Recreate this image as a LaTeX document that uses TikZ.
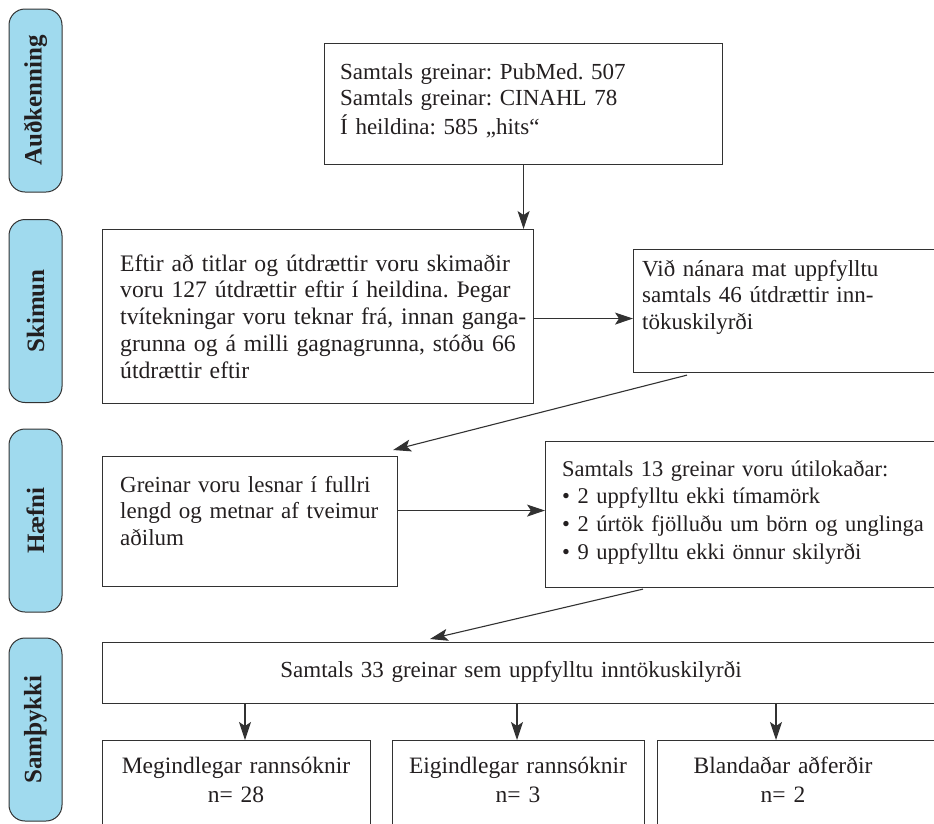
\documentclass[tikz,border=0pt]{standalone}
\usepackage{fontspec}
\setmainfont{Liberation Serif}
\usetikzlibrary{positioning, arrows.meta, calc}

\definecolor{pillblue}{RGB}{160,218,238}
\definecolor{linegray}{RGB}{50,50,50}
\definecolor{textgray}{RGB}{35,31,32}
\frenchspacing

\begin{document}
\begin{tikzpicture}[x=1pt, y=-1pt,
		stagenode/.style={draw=linegray, fill=pillblue, rounded corners=16pt, line width=1pt, minimum width=183pt, minimum height=53pt, inner sep=0pt, rotate=90, text=textgray, font=\fontsize{25}{28}\selectfont\bfseries},
		boxnode/.style={draw=linegray, line width=1.1pt, inner sep=0pt, anchor=north west},
		boxtext/.style={anchor=base west, inner sep=0pt, align=left, text width=430pt, text=textgray, font=\fontsize{23}{26.8}\selectfont},
		midtext/.style={anchor=base, inner sep=0pt, align=center, text width=300pt, text=textgray, font=\fontsize{23.5}{29}\selectfont},
		arrow/.style={-{Stealth[length=18pt, width=12pt, inset=4pt]}, line width=1.1pt, linegray}
		]
		
		\useasboundingbox (0,0) rectangle (934,823);
		\clip (0,0) rectangle (934,823);
		
		% ----- Stages -----
		\node[stagenode] (p1) at (35.5,100.5) {Auðkenning};
		\node[stagenode] (p2) at (35.5,311) {Skimun};
		\node[stagenode] (p3) at (35.5,520.5) {Hæfni};
		\node[stagenode] (p4) at (35.5,729.5) {Samþykki};
		
		% ----- Auðkenning -----
		\node[boxnode, minimum width=398pt, minimum height=121pt] (id1) at (324,43) {};
		\node[boxtext] (id1t) at (340,79) {Samtals greinar: PubMed. 507\\ Samtals greinar: CINAHL 78\\[2pt] Í heildina: 585 „hits“};
		
		% ----- Skimun -----
		\node[boxnode, minimum width=431pt, minimum height=174pt] (sk1) at (102,229) {};
		\node[boxtext, font=\fontsize{23.7}{26.8}\selectfont] (sk1t) at (120,271) {Eftir að titlar og útdrættir voru skimaðir\\ voru 127 útdrættir eftir í heildina. Þegar\\ tvítekningar voru teknar frá, innan ganga-\\ grunna og á milli gagnagrunna, stóðu 66\\ útdrættir eftir};
		
		\node[boxnode, minimum width=320pt, minimum height=123pt] (sk2) at (633,249) {};
		\node[boxtext] (sk2t) at (642,276) {Við nánara mat uppfylltu\\ samtals 46 útdrættir inn-\\ tökuskilyrði};
		
		% ----- Hæfni -----
		\node[boxnode, minimum width=295pt, minimum height=130pt] (hf1) at (102,456) {};
		\node[boxtext] (hf1t) at (120,492) {Greinar voru lesnar í fullri\\ lengd og metnar af tveimur\\ aðilum};
		
		\node[boxnode, minimum width=400pt, minimum height=146pt] (hf2) at (545,441) {};
		\node[boxtext, font=\fontsize{22.5}{27.7}\selectfont] (hf2t) at (562,476) {Samtals 13 greinar voru útilokaðar:\\ • 2 uppfylltu ekki tímamörk\\ • 2 úrtök fjölluðu um börn og unglinga\\ • 9 uppfylltu ekki önnur skilyrði};
		
		% ----- Samþykki -----
		\node[boxnode, minimum width=840pt, minimum height=61pt] (sa0) at (102,642) {};
		\node[midtext, text width=600pt, font=\fontsize{23}{29}\selectfont] (sa0t) at (511,677) {Samtals 33 greinar sem uppfylltu inntökuskilyrði};
		
		\node[boxnode, minimum width=268pt, minimum height=100pt] (sa1) at (102,740) {};
		\node[boxnode, minimum width=252pt, minimum height=100pt] (sa2) at (392,740) {};
		\node[boxnode, minimum width=300pt, minimum height=100pt] (sa3) at (657,740) {};
		\node[midtext] (sa1t) at (236,773) {Megindlegar rannsóknir\\ n= 28};
		\node[midtext] (sa2t) at (518,773) {Eigindlegar rannsóknir\\ n= 3};
		\node[midtext] (sa3t) at (783,773) {Blandaðar aðferðir\\ n= 2};
		
		% Arrows
		\draw[arrow] (id1.south) -- (id1.south |- sk1.north);
		\draw[arrow] ($(sk1.east)+(0,2)$) -- ($(sk1.east -| sk2.west)+(0,2)$);
		\draw[arrow] ($(sk2.south west)+(54,2)$) -- ($(hf1.north east)+(-5,-6)$);
		\draw[arrow] ($(hf1.east)+(0,-11)$) -- ($(hf1.east -| hf2.west)+(0,-11)$);
		\draw[arrow] ($(hf2.south west)+(98,1)$) -- ($(sa0.north west)+(328,-3)$);
		\draw[arrow] ($(sa1.north west)+(143,-37)$) -- ($(sa1.north west)+(143,0)$);
		\draw[arrow] ($(sa2.north west)+(125,-37)$) -- ($(sa2.north west)+(125,0)$);
		\draw[arrow] ($(sa3.north west)+(119,-37)$) -- ($(sa3.north west)+(119,0)$);
		
	\end{tikzpicture}
\end{document}
